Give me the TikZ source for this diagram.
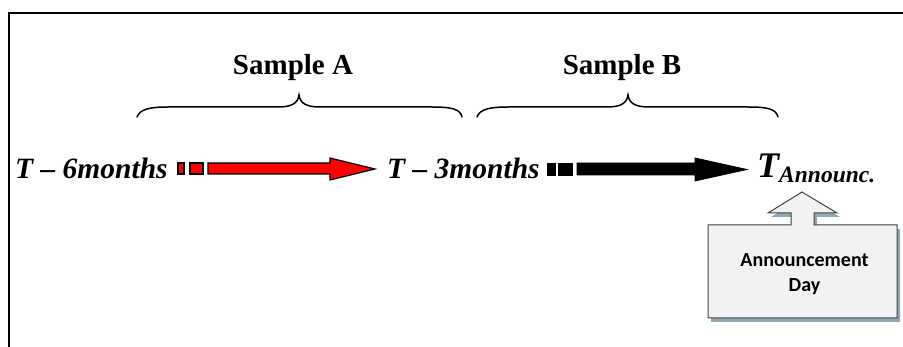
\documentclass[tikz,border=0pt]{standalone}
\usepackage{fontspec}
\setmainfont{Liberation Serif}
\newfontfamily\boxfont{Carlito}
\definecolor{redfill}{RGB}{255,0,0}
\definecolor{boxfill}{RGB}{242,242,242}
\definecolor{shadowc}{RGB}{143,168,180}
\definecolor{boxline}{RGB}{64,64,64}
\begin{document}
\begin{tikzpicture}[x=1pt,y=-1pt,
  tlabel/.style={font=\fontsize{29.5}{31}\selectfont\bfseries\itshape, inner sep=0pt, anchor=base west},
  samplelabel/.style={font=\fontsize{29}{31}\selectfont\bfseries, inner sep=0pt, anchor=base},
  bracepath/.style={line width=1.5pt, line cap=round},
  redarrow/.style={fill=redfill, draw=black, line width=1.2pt, line join=miter},
  blackarrow/.style={fill=black, draw=black, line width=0.8pt},
  callout/.style={fill=boxfill, draw=boxline, line width=1pt},
  calloutshadow/.style={fill=shadowc, draw=none}]
\useasboundingbox (0,0) rectangle (903,347);
% frame
\draw[line width=2pt] (9,347) -- (9,13) -- (903,13);
% labels
\node[tlabel] (t6) at (15,179) {T – 6months};
\node[tlabel] (t3) at (387,179) {T – 3months};
\node[tlabel, font=\fontsize{36}{38}\selectfont\bfseries\itshape] (tann) at (757,178) {T};
\node[tlabel, font=\fontsize{23.5}{25}\selectfont\bfseries\itshape] (tsub) at (779,183) {Announc.};
\node[samplelabel] (sa) at (293,75) {Sample A};
\node[samplelabel] (sb) at (622,75) {Sample B};
% braces
\draw[bracepath] (137,117) .. controls (140,109) and (150,107) .. (168,107) -- (278,107) .. controls (292,107) and (298,103) .. (299,95) .. controls (300,103) and (306,107) .. (320,107) -- (432,107) .. controls (452,107) and (460,109) .. (462,117);
\draw[bracepath] (477,117) .. controls (480,109) and (490,107) .. (508,107) -- (607,107) .. controls (621,107) and (627,103) .. (628,95) .. controls (629,103) and (635,107) .. (649,107) -- (748,107) .. controls (768,107) and (776,109) .. (778,117);
% red arrow
\draw[redarrow] (178,163) rectangle (184,174);
\draw[redarrow] (190,163) rectangle (203,174);
\draw[redarrow] (208,163) -- (330,163) -- (330,158) -- (375,169) -- (330,180) -- (330,174) -- (208,174) -- cycle;
% black arrow
\draw[blackarrow] (547,163) rectangle (555,175);
\draw[blackarrow] (558,163) rectangle (572,175);
\draw[blackarrow] (577,163) -- (695,163) -- (695,158) -- (747,169.5) -- (695,181) -- (695,175) -- (577,175) -- cycle;
% callout
\fill[calloutshadow, shift={(3,4)}] (708,225) -- (791,225) -- (791,213) -- (768,213) -- (802,192) -- (837,213) -- (814,213) -- (814,225) -- (897,225) -- (897,318) -- (708,318) -- cycle;
\draw[callout] (708,225) -- (791,225) -- (791,213) -- (768,213) -- (802,192) -- (837,213) -- (814,213) -- (814,225) -- (897,225) -- (897,318) -- (708,318) -- cycle;
\node[font=\fontsize{20}{25}\selectfont\boxfont\bfseries, align=center, inner sep=0pt, anchor=base] (ann) at (804.5,292) {Announcement\\Day};
\end{tikzpicture}
\end{document}
